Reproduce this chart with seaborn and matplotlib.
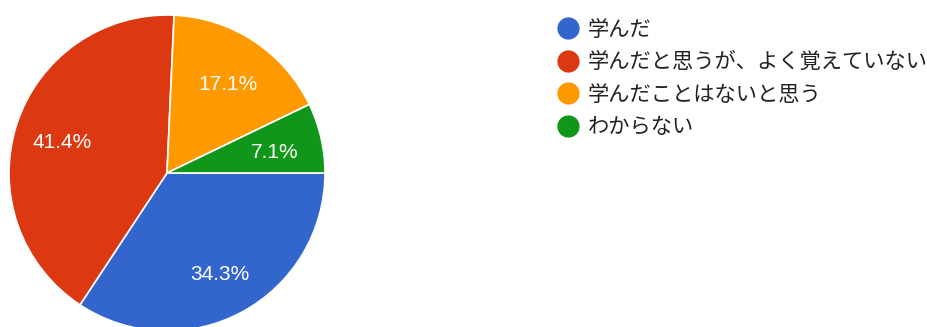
import matplotlib
matplotlib.use("Agg")
import matplotlib.pyplot as plt
from matplotlib.lines import Line2D
import seaborn as sns

# -------------------------------
# Data
# -------------------------------
answers = ["学んだ", "学んだと思うが、よく覚えていない", "学んだことはないと思う", "わからない"]
counts = [24, 29, 12, 5]
colors = ["#3366cc", "#dc3912", "#ff9900", "#109618"]

# -------------------------------
# Style
# -------------------------------
sns.set_style("white")
plt.rcParams['font.family'] = ['Noto Sans CJK JP', 'DejaVu Sans']
palette = sns.color_palette(colors)

W, H = 928, 327
fig = plt.figure(figsize=(W / 100, H / 100), dpi=100)

# pie axes placed in pixels: center (167, 173), radius 158
cx, cy, r = 167, 173, 158
ax = fig.add_axes([(cx - r) / W, (H - cy - r) / H, 2 * r / W, 2 * r / H])

wedges, texts, autotexts = ax.pie(
    counts,
    colors=palette,
    startangle=0,
    counterclock=False,
    autopct="%1.1f%%",
    pctdistance=0.7,
    radius=1,
    wedgeprops=dict(edgecolor="white", linewidth=1.2),
    textprops=dict(color="white", fontsize=15, family=["Liberation Sans", "DejaVu Sans"]),
)
# nudge labels slightly down to sit like the original
for t in autotexts:
    x, y = t.get_position()
    t.set_position((x, y - 0.025))

ax.set_xlim(-1, 1)
ax.set_ylim(-1, 1)
ax.set_aspect("equal")
ax.axis("off")

# -------------------------------
# Legend
# -------------------------------
handles = [
    Line2D([0], [0], marker="o", linestyle="none", markersize=15,
           markerfacecolor=c, markeredgecolor=c)
    for c in palette
]
leg = fig.legend(
    handles, answers,
    loc="upper left",
    bbox_to_anchor=(557 / W, 1 - 18.5 / H),
    frameon=False,
    fontsize=15.3,
    handlelength=1.0,
    handletextpad=0.44,
    labelspacing=0.5,
    borderpad=0,
    borderaxespad=0,
)
for t in leg.get_texts():
    t.set_color("#222222")

plt.savefig("out.png", dpi=100)
